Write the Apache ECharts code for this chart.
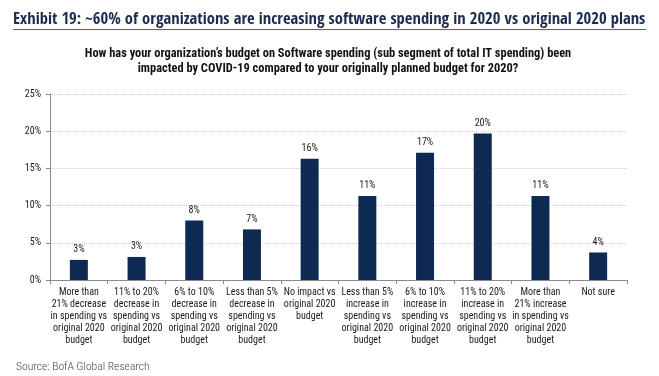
<!DOCTYPE html>
<html>
<head>
<meta charset="utf-8">
<script src="https://cdn.jsdelivr.net/npm/echarts@6/dist/echarts.min.js"></script>
<style>
	html, body { margin: 0; padding: 0; background: #fff; }
	#chart { width: 659px; height: 376px; }
</style>
</head>
<body>
<div id="chart"></div>
<script>
	var categories = [
		'More than\n21% decrease\nin spending vs\noriginal 2020\nbudget',
		'11% to 20%\ndecrease in\nspending vs\noriginal 2020\nbudget',
		'6% to 10%\ndecrease in\nspending vs\noriginal 2020\nbudget',
		'Less than 5%\ndecrease in\nspending vs\noriginal 2020\nbudget',
		'No impact vs\noriginal 2020\nbudget',
		'Less than 5%\nincrease in\nspending vs\noriginal 2020\nbudget',
		'6% to 10%\nincrease in\nspending vs\noriginal 2020\nbudget',
		'11% to 20%\nincrease in\nspending vs\noriginal 2020\nbudget',
		'More than\n21% increase\nin spending vs\noriginal 2020\nbudget',
		'Not sure'
	];
	// share of respondents, %
	var shares = [2.7, 3.1, 8.0, 6.8, 16.3, 11.3, 17.1, 19.7, 11.3, 3.7];

	var title = 'Exhibit 19: ~60% of organizations are increasing software spending in 2020 vs original 2020 plans';
	var question = 'How has your organization\u2019s budget on Software spending (sub segment of total IT spending) been\nimpacted by COVID-19 compared to your originally planned budget for 2020?';
	var source = 'Source: BofA Global Research';

	var cond = "'Roboto Condensed', 'Liberation Sans', sans-serif";

	var option = {
		animation: false,
		graphic: [{
			type: 'text',
			x: 13,
			y: 20,
			style: {
				text: title,
				font: "bold 16.6px 'Open Sans Condensed', sans-serif",
				fill: '#1b2c4e',
				verticalAlign: 'middle'
			}
		}, {
			type: 'line',
			shape: { x1: 13, y1: 29.5, x2: 646, y2: 29.5 },
			style: { stroke: '#3f63a3', lineWidth: 1.2 }
		}, {
			type: 'text',
			x: 328,
			y: 46,
			style: {
				text: question,
				font: "bold 12.4px " + cond,
				lineHeight: 15.5,
				fill: '#111',
				align: 'center',
				verticalAlign: 'top'
			}
		}, {
			type: 'text',
			x: 16,
			y: 367,
			style: {
				text: source,
				font: "300 11.6px " + cond,
				fill: '#444',
				verticalAlign: 'middle'
			}
		}],
		grid: {
			left: 50,
			right: 32,
			top: 94,
			bottom: 96,
			containLabel: false
		},
		xAxis: {
			type: 'category',
			data: categories,
			axisLine: { lineStyle: { color: '#8a8a8a', width: 1 } },
			axisTick: { show: true, length: 4, lineStyle: { color: '#8a8a8a' } },
			axisLabel: {
				interval: 0,
				margin: 7,
				fontFamily: cond,
				fontSize: 10,
				lineHeight: 11.8,
				color: '#1a1a1a'
			}
		},
		yAxis: {
			type: 'value',
			min: 0,
			max: 25,
			interval: 5,
			axisLine: { show: true, lineStyle: { color: '#8a8a8a' } },
			axisTick: { show: true, length: 4, lineStyle: { color: '#8a8a8a' } },
			axisLabel: {
				formatter: '{value}%',
				fontFamily: cond,
				fontSize: 10,
				color: '#1a1a1a',
				margin: 9
			},
			splitLine: {
				lineStyle: { color: '#d0d0d0', type: [1, 1] }
			}
		},
		series: [{
			type: 'bar',
			data: shares,
			barWidth: 18,
			itemStyle: { color: '#0e2a53' },
			label: {
				show: true,
				position: 'top',
				distance: 5,
				formatter: function (p) { return Math.round(p.value) + '%'; },
				fontFamily: cond,
				fontSize: 10,
				color: '#1a1a1a'
			}
		}]
	};

	var myChart = echarts.init(document.getElementById('chart'));
	myChart.setOption(option);
</script>
</body>
</html>
